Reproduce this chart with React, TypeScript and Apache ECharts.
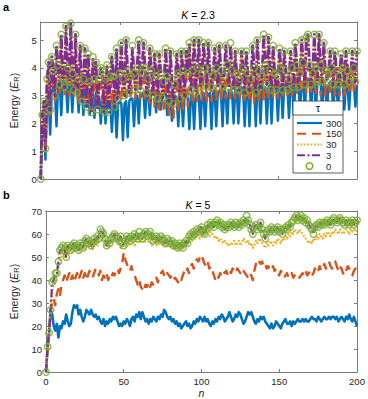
import React, { useEffect, useRef } from "react";
import * as echarts from "echarts";

// ---------- data ----------
const legendNames = ["300", "150", "30", "3", "0"];
const xTicks = [0, 50, 100, 150, 200];
const yTicksTop = [0, 1, 2, 3, 4, 5];
const yTicksBottom = [0, 10, 20, 30, 40, 50, 60, 70];

// Panel a, K = 2.3 (n = 0..200)
const k23_tau300 = [
  0,1.8,2.6,0.7,2.9,3.1,1.6,3.2,3.3,3.1,
  1.9,3.4,3.5,2.3,3.5,3.6,3.4,2.4,3.5,3.6,
  2.4,3.5,3.4,3.3,2.4,3.4,3.3,2.3,3.3,3.2,
  3.1,2.3,3.2,3.1,2.2,3.1,3.0,2.9,2.0,3.0,
  2.9,2.0,2.9,2.8,2.8,1.7,2.8,2.7,1.5,2.7,
  2.8,2.7,1.4,2.7,2.8,1.5,2.8,2.9,2.9,1.9,
  3.0,3.0,2.0,3.1,3.0,3.1,2.2,3.1,3.2,2.3,
  3.2,3.1,3.2,2.4,3.2,3.1,2.5,3.1,3.2,3.1,
  2.3,3.0,3.1,2.1,3.0,3.0,2.9,1.9,3.0,2.9,
  1.9,3.0,3.0,2.9,1.8,3.0,3.1,1.8,3.0,3.1,
  3.0,1.8,3.1,3.1,1.9,3.1,3.0,3.1,1.8,3.1,
  3.2,1.9,3.1,3.2,3.1,1.9,3.2,3.1,2.0,3.2,
  3.2,3.1,2.0,3.2,3.2,2.0,3.2,3.3,3.2,1.9,
  3.2,3.3,1.9,3.3,3.2,3.3,1.9,3.3,3.3,2.0,
  3.3,3.2,3.3,2.0,3.3,3.4,2.0,3.3,3.4,3.3,
  2.1,3.4,3.3,2.2,3.4,3.4,3.3,2.2,3.4,3.5,
  2.3,3.4,3.5,3.4,2.4,3.5,3.5,2.5,3.5,3.6,
  3.5,2.5,3.5,3.5,2.5,3.5,3.6,3.5,2.4,3.5,
  3.4,2.4,3.4,3.5,3.4,2.5,3.4,3.4,2.5,3.4,
  3.5,3.4,2.5,3.4,3.4,2.5,3.4,3.5,3.4,2.6,
  3.4,
];
const k23_tau150 = [
  0,2.0,2.7,1.0,3.1,3.8,2.3,3.5,3.9,2.8,
  3.7,4.1,3.1,3.9,4.0,3.0,3.8,3.9,3.0,3.7,
  3.9,2.9,3.8,3.8,2.8,3.7,3.8,2.8,3.6,3.7,
  2.7,3.5,3.6,2.7,3.5,3.6,2.7,3.4,3.5,2.7,
  3.5,3.6,2.7,3.6,3.7,2.7,3.6,3.8,2.7,3.7,
  3.8,2.8,3.7,3.9,2.8,3.8,3.9,2.9,3.8,3.9,
  2.9,3.7,3.9,2.9,3.7,3.8,2.8,3.6,3.8,2.7,
  3.6,3.7,2.6,3.5,3.6,2.5,3.5,3.6,2.4,3.4,
  3.5,2.3,3.4,3.6,2.2,3.4,3.6,2.4,3.5,3.7,
  2.5,3.6,3.8,2.6,3.7,3.9,2.7,3.8,4.0,2.8,
  3.8,4.0,2.8,3.8,3.9,2.8,3.7,3.9,2.8,3.7,
  3.8,2.8,3.6,3.8,2.8,3.7,3.8,2.9,3.7,3.8,
  2.9,3.7,3.9,2.9,3.8,3.9,2.9,3.7,3.9,2.8,
  3.7,3.8,2.8,3.7,3.8,2.7,3.6,3.8,2.7,3.7,
  3.8,2.8,3.7,3.9,2.8,3.8,3.9,2.9,3.8,3.9,
  2.9,3.8,4.0,3.0,3.9,4.0,3.0,3.9,4.1,3.0,
  3.9,4.1,3.1,4.0,4.1,3.1,4.0,4.1,3.1,4.0,
  4.2,3.1,4.0,4.1,3.1,4.0,4.1,3.0,3.9,4.0,
  3.0,3.9,4.0,3.0,3.9,4.0,3.0,3.9,4.0,3.0,
  3.9,4.0,3.0,3.9,4.1,3.1,4.0,4.1,3.1,4.0,
  4.1,
];
const k23_tau30 = [
  0,2.2,2.8,1.2,3.5,4.0,2.7,4.2,3.8,3.1,
  4.6,4.0,3.4,5.0,3.7,3.3,5.3,4.0,3.5,5.4,
  3.8,3.3,5.0,3.3,3.6,4.6,3.0,3.7,4.5,2.8,
  4.4,3.5,2.6,4.3,3.6,4.1,2.7,3.6,4.0,3.8,
  2.6,3.6,4.1,2.6,3.7,4.3,3.7,2.8,4.6,3.0,
  3.8,4.7,3.6,3.1,4.8,3.9,3.2,3.7,4.7,3.8,
  3.3,4.0,4.8,3.3,3.8,4.8,4.0,3.2,3.6,4.6,
  3.9,3.1,4.4,3.7,3.0,4.4,3.8,3.0,3.5,4.6,
  3.7,2.9,4.5,3.6,2.9,3.5,4.5,3.8,3.0,4.6,
  3.9,3.1,4.6,3.8,4.9,3.3,3.9,4.9,3.2,4.0,
  4.9,3.4,3.8,4.8,4.0,3.4,4.8,3.9,3.4,3.7,
  4.6,4.0,3.4,4.7,3.9,3.4,3.7,4.7,4.0,3.4,
  4.8,3.9,3.3,4.5,3.8,3.3,3.6,4.5,3.9,3.2,
  4.5,3.8,3.3,3.6,4.6,3.9,3.2,4.8,3.9,3.4,
  3.7,5.0,4.0,3.4,4.9,3.9,3.3,4.7,3.8,3.3,
  3.7,4.6,3.9,3.3,4.5,3.9,3.3,3.6,4.5,3.9,
  3.4,4.8,4.0,3.4,3.8,4.9,4.1,3.5,5.0,5.0,
  4.0,3.5,3.8,5.0,4.0,3.5,5.0,4.0,3.5,4.8,
  3.9,3.5,3.8,4.5,3.9,3.5,4.5,3.9,3.5,3.7,
  4.4,3.9,3.5,4.5,3.9,3.5,3.7,4.5,3.9,3.5,
  4.5,
];
const k23_tau3 = [
  0,2.3,2.8,1.1,3.6,4.2,2.5,4.4,3.9,3.0,
  4.8,4.1,3.4,5.2,3.7,3.3,5.5,4.0,3.5,5.6,
  3.8,3.2,5.2,3.1,3.6,4.8,2.8,3.6,4.7,2.6,
  4.5,3.5,2.4,4.3,3.6,4.2,2.5,3.6,4.0,3.9,
  2.4,3.6,4.1,2.4,3.7,4.4,3.7,2.6,4.7,2.9,
  3.8,4.9,3.6,3.0,5.0,3.9,3.1,3.7,4.7,3.8,
  3.2,4.0,5.0,3.2,3.8,4.9,4.0,3.1,3.6,4.7,
  3.9,3.0,4.5,3.7,2.9,4.5,3.8,2.9,3.5,4.7,
  3.7,2.8,4.6,3.5,2.7,3.4,4.5,3.8,2.9,4.6,
  3.9,3.0,4.6,3.8,4.9,3.2,3.9,5.0,3.1,4.0,
  5.0,3.3,3.8,4.9,4.0,3.3,4.9,3.9,3.3,3.7,
  4.7,4.0,3.3,4.8,3.9,3.3,3.7,4.8,4.1,3.3,
  4.8,3.9,3.2,4.6,3.8,3.2,3.6,4.6,4.0,3.1,
  4.6,3.8,3.2,3.6,4.8,4.0,3.1,5.0,3.9,3.3,
  3.7,5.2,4.1,3.4,5.1,3.9,3.2,4.8,3.8,3.2,
  3.7,4.7,3.9,3.2,4.6,3.9,3.2,3.6,4.6,4.0,
  3.3,4.9,4.1,3.3,3.8,5.0,4.2,3.4,5.1,5.2,
  4.1,3.4,3.8,5.2,4.0,3.5,5.2,4.1,3.5,4.9,
  3.9,3.6,3.8,4.6,4.0,3.4,4.6,3.9,3.4,3.7,
  4.5,4.0,3.4,4.6,3.9,3.5,3.7,4.6,4.0,3.5,
  4.6,
];
const k23_tau0 = [
  0,2.3,2.8,1.1,3.6,4.2,2.5,4.4,3.9,3.0,
  4.8,4.1,3.4,5.2,3.6,3.3,5.5,4.0,3.5,5.6,
  3.8,3.2,5.2,3.1,3.6,4.8,2.8,3.6,4.7,2.6,
  4.5,3.5,2.4,4.4,3.6,4.2,2.5,3.6,4.0,3.9,
  2.4,3.6,4.1,2.4,3.7,4.4,3.7,2.6,4.7,2.9,
  3.8,4.9,3.6,3.0,5.0,3.9,3.1,3.7,4.8,3.8,
  3.2,4.0,5.0,3.2,3.8,4.9,4.0,3.1,3.6,4.7,
  3.9,3.0,4.5,3.7,2.9,4.5,3.8,2.9,3.5,4.7,
  3.7,2.8,4.6,3.6,2.7,3.4,4.5,3.8,2.9,4.6,
  3.9,3.0,4.6,3.8,4.9,3.2,3.9,5.0,3.1,4.0,
  5.0,3.3,3.8,4.9,4.0,3.3,4.9,3.9,3.3,3.7,
  4.7,4.0,3.3,4.8,3.9,3.3,3.7,4.8,4.1,3.3,
  4.9,3.9,3.2,4.6,3.8,3.2,3.6,4.6,4.0,3.1,
  4.6,3.8,3.2,3.6,4.8,4.0,3.1,5.0,3.9,3.3,
  3.7,5.2,4.1,3.4,5.1,3.9,3.2,4.8,3.8,3.2,
  3.7,4.7,4.0,3.2,4.6,3.9,3.2,3.6,4.6,4.0,
  3.3,4.9,4.1,3.3,3.8,5.0,4.2,3.4,5.1,5.2,
  4.1,3.4,3.8,5.2,4.0,3.5,5.2,4.1,3.5,4.9,
  3.9,3.5,3.8,4.6,4.0,3.4,4.6,3.9,3.4,3.7,
  4.5,4.0,3.4,4.6,3.9,3.5,3.7,4.6,4.0,3.5,
  4.6,
];

// Panel b, K = 5 (n = 0..200)
const k5_tau300 = [
  0,10,17,27,25,20,18,21,15,20,
  19,22,21,25,22,20,21,26,29,28,
  29,25,27,24,22,24,27,26,25,27,
  25,24,25,23,24,22,21,23,20,22,
  21,23,22,24,23,24,22,20,21,20,
  22,21,23,22,20,23,24,22,25,24,
  26,23,26,24,22,23,21,23,22,24,
  23,22,24,23,25,24,27,26,24,23,
  24,22,23,21,22,20,21,19,20,21,
  22,20,21,19,20,22,21,23,22,24,
  23,22,24,22,23,21,20,22,21,23,
  22,24,23,25,24,22,23,24,26,24,
  22,23,25,24,26,25,23,21,22,24,
  26,25,26,24,22,21,23,22,24,23,
  24,22,21,20,19,21,19,20,22,21,
  20,19,21,22,23,21,21,22,20,22,
  21,22,23,22,22,23,22,23,22,22,
  23,24,23,23,22,24,23,22,23,24,
  23,23,24,23,24,24,23,24,22,23,
  24,23,22,24,23,25,23,22,24,22,
  20,
];
const k5_tau150 = [
  0,9,17,26,30,32,29,34,36,33,
  38,40,42,39,41,43,40,42,39,41,
  43,40,42,44,41,43,40,42,44,42,
  41,43,45,44,42,44,40,42,41,43,
  40,42,41,43,42,44,45,43,45,47,
  52,49,47,45,44,46,43,42,40,38,
  40,37,36,35,38,37,39,37,39,38,
  40,41,39,42,43,44,42,41,43,42,
  41,42,40,41,40,39,41,40,42,44,
  43,45,43,46,47,45,47,49,48,50,
  51,49,47,46,48,45,46,44,42,40,
  42,41,43,42,44,43,44,42,44,43,
  45,44,43,45,44,43,45,44,43,42,
  41,43,42,40,44,47,49,48,47,48,
  46,47,45,46,44,45,46,44,45,43,
  42,44,43,41,42,43,41,42,43,41,
  42,43,42,41,42,43,42,44,42,43,
  44,42,43,45,43,44,46,44,45,47,
  45,46,48,46,45,47,48,46,44,46,
  45,43,42,44,46,45,43,42,44,45,
  43,
];
const k5_tau30 = [
  0,10,16,26,35,38,40,42,45,48,
  51,52,50,53,51,52,54,52,53,55,
  53,54,52,55,54,53,55,56,54,55,
  53,56,57,55,58,59,57,58,55,56,
  54,55,57,56,58,57,56,55,54,55,
  56,55,54,56,55,57,56,55,57,58,
  56,57,58,56,57,58,56,57,55,56,
  57,55,56,57,56,55,56,54,55,56,
  54,55,53,54,55,53,54,55,54,56,
  55,57,56,58,57,59,58,60,59,58,
  59,60,59,61,60,59,61,60,59,58,
  59,57,58,57,56,57,56,55,56,55,
  56,57,55,56,57,55,56,58,57,56,
  57,55,56,54,55,57,56,58,57,56,
  55,54,56,55,57,56,55,57,56,58,
  57,56,58,57,59,58,60,59,61,60,
  62,61,60,62,61,60,59,58,57,56,
  57,56,58,57,59,58,60,59,58,60,
  59,61,60,59,61,60,62,61,60,62,
  61,60,61,62,61,60,62,61,62,61,
  62,
];
const k5_tau3 = [
  0,11,17,27,39,40,43,43,48,53,
  53,55,53,50,55,54,53,55,56,54,
  55,53,56,55,54,57,58,56,57,55,
  56,58,57,59,58,61,61,60,58,55,
  57,56,58,59,60,59,58,57,59,56,
  55,57,59,58,57,59,58,60,59,58,
  60,59,58,60,61,59,60,61,59,57,
  58,59,58,57,59,58,57,56,58,57,
  56,57,55,56,55,54,56,55,54,56,
  57,56,59,60,59,61,60,61,61,62,
  63,61,60,62,64,63,65,64,63,65,
  66,64,65,63,64,62,63,64,63,65,
  64,63,65,64,63,65,64,66,65,67,
  66,64,62,60,63,64,62,63,65,62,
  60,58,61,62,61,63,62,61,62,63,
  61,62,60,62,63,62,64,63,65,66,
  66,68,66,67,68,66,67,65,66,64,
  63,62,60,63,64,63,65,64,65,64,
  65,66,65,64,66,66,66,65,66,67,
  66,65,64,66,65,64,65,66,64,65,
  66,
];
const k5_tau0 = [
  0,11,17,27,39,40,43,43,48,53,
  54,55,53,50,55,54,53,55,56,54,
  55,53,56,55,54,57,58,56,57,55,
  56,58,57,59,58,62,61,60,58,55,
  57,56,58,59,60,59,58,57,59,56,
  55,57,59,58,57,59,58,60,59,58,
  61,59,58,60,61,59,60,61,59,57,
  58,59,58,57,59,58,57,56,58,57,
  56,57,55,56,55,54,56,55,54,56,
  57,56,59,60,59,61,60,62,61,62,
  63,61,60,62,64,63,65,64,63,65,
  66,64,65,63,64,62,63,64,63,65,
  64,63,65,64,63,65,64,66,65,68,
  66,64,62,60,63,64,62,63,65,62,
  60,58,61,62,61,63,62,61,62,63,
  61,62,60,62,63,62,64,63,65,66,
  67,68,66,67,68,66,67,65,66,64,
  63,62,60,63,64,63,65,64,65,64,
  65,66,65,64,66,67,66,65,66,67,
  66,65,64,66,65,64,65,66,64,65,
  66,
];

// ---------- styling ----------
const FONT = '"Liberation Sans", Arial, Helvetica, sans-serif';
const TXT = "#262626";
const AX = "#7a7a7a";
const C_BLUE = "#0072BD";
const C_ORANGE = "#D95319";
const C_YELLOW = "#EDB120";
const C_PURPLE = "#7E2F8E";
const C_GREEN = "#77AC30";

const DASH_150 = [9, 6];
const DASH_30 = [1.8, 1.6];
const DASH_3 = [9, 2, 2, 2];
const DASH_3_LEG = [8, 2.5, 2, 2.5];

const toXY = (arr: number[]) => arr.map((v, i) => [i, v]);

function lineSeries(name: string, data: number[], color: string, dash: any, width: number, idx: number) {
  return {
    name,
    type: "line",
    xAxisIndex: idx * 2,
    yAxisIndex: idx * 2,
    data: toXY(data),
    showSymbol: false,
    symbol: "none",
    silent: true,
    lineStyle: { color, width, type: dash, cap: "butt", join: "round" },
    itemStyle: { color },
    z: 2,
  };
}

function circleSeries(name: string, data: number[], idx: number) {
  return {
    name,
    type: "scatter",
    xAxisIndex: idx * 2,
    yAxisIndex: idx * 2,
    data: toXY(data),
    symbol: "circle",
    symbolSize: 6.5,
    silent: true,
    itemStyle: { color: "rgba(255,255,255,0)", borderColor: C_GREEN, borderWidth: 1.5 },
    z: 3,
  };
}

function xAxes(grid: number, withLabels: boolean) {
  const base = {
    gridIndex: grid,
    type: "value",
    min: xTicks[0],
    max: xTicks[xTicks.length - 1],
    interval: xTicks[1] - xTicks[0],
    splitLine: { show: false },
    axisLine: { show: true, onZero: false, lineStyle: { color: AX, width: 1 } },
    axisTick: { show: true, inside: true, length: 3, lineStyle: { color: AX, width: 1 } },
  };
  return [
    {
      ...base,
      position: "bottom",
      axisLabel: { show: withLabels, color: TXT, fontSize: 9.5, fontFamily: FONT, margin: 4 },
      name: withLabels ? "n" : "",
      nameLocation: "middle",
      nameGap: 15,
      nameTextStyle: { color: TXT, fontSize: 10.5, fontStyle: "italic", fontFamily: FONT },
    },
    { ...base, position: "top", axisLabel: { show: false } },
  ];
}

function yAxes(grid: number, ticks: number[], max: number, nameGap: number) {
  const base = {
    gridIndex: grid,
    type: "value",
    min: ticks[0],
    max,
    interval: ticks[1] - ticks[0],
    splitLine: { show: false },
    axisLine: { show: true, onZero: false, lineStyle: { color: AX, width: 1 } },
    axisTick: { show: true, inside: true, length: 3, lineStyle: { color: AX, width: 1 } },
  };
  return [
    {
      ...base,
      position: "left",
      axisLabel: {
        show: true,
        color: TXT,
        fontSize: 9.5,
        fontFamily: FONT,
        margin: 4,
        formatter: (v: number) => (ticks.indexOf(v) >= 0 ? String(v) : ""),
      },
      name: "{a|Energy (}{b|E}{c|R}{a|)}",
      nameLocation: "middle",
      nameGap,
      nameTextStyle: {
        color: TXT,
        fontFamily: FONT,
        fontSize: 10.5,
        rich: {
          a: { fontSize: 10.5, fontFamily: FONT, color: TXT, lineHeight: 14 },
          b: { fontSize: 10.5, fontFamily: FONT, color: TXT, fontStyle: "italic", lineHeight: 14 },
          c: { fontSize: 7.5, fontFamily: FONT, color: TXT, lineHeight: 7, verticalAlign: "bottom" },
        },
      },
    },
    { ...base, position: "right", axisLabel: { show: false } },
  ];
}

// legend drawn as graphics (box with τ header)
const LEG_X = 293;
const LEG_Y = 101;
const LEG_W = 50;
const LEG_H = 72;
const LEG_ROW0 = 123;
const LEG_STEP = 10.75;

function legendGraphics() {
  const styles: any[] = [
    { color: C_BLUE, dash: null },
    { color: C_ORANGE, dash: DASH_150 },
    { color: C_YELLOW, dash: DASH_30 },
    { color: C_PURPLE, dash: DASH_3_LEG },
    { color: C_GREEN, dash: "circle" },
  ];
  const els: any[] = [
    {
      type: "rect",
      z: 10,
      shape: { x: LEG_X, y: LEG_Y, width: LEG_W, height: LEG_H },
      style: { fill: "#ffffff", stroke: "#333", lineWidth: 0.8 },
    },
    {
      type: "line",
      z: 11,
      shape: { x1: LEG_X, y1: 115, x2: LEG_X + LEG_W, y2: 115 },
      style: { stroke: "#333", lineWidth: 0.8 },
    },
    {
      type: "text",
      z: 11,
      x: LEG_X + LEG_W / 2,
      y: 108,
      style: { text: "τ", fontSize: 10, fontFamily: FONT, fill: "#000", align: "center", verticalAlign: "middle" },
    },
  ];
  legendNames.forEach((name, i) => {
    const y = LEG_ROW0 + i * LEG_STEP;
    const s = styles[i];
    if (s.dash === "circle") {
      els.push({
        type: "circle",
        z: 11,
        shape: { cx: 309.5, cy: y, r: 3.3 },
        style: { fill: "none", stroke: s.color, lineWidth: 1.5 },
      });
    } else {
      els.push({
        type: "line",
        z: 11,
        shape: { x1: 297, y1: y, x2: 322, y2: y },
        style: { stroke: s.color, lineWidth: 2.2, lineDash: s.dash || undefined, lineCap: "butt" },
      });
    }
    els.push({
      type: "text",
      z: 11,
      x: 326,
      y,
      style: { text: name, fontSize: 9.5, fontFamily: FONT, fill: TXT, align: "left", verticalAlign: "middle" },
    });
  });
  return els;
}

function titleText(text: string, y: number) {
  return {
    type: "text",
    z: 11,
    x: 198,
    y,
    style: {
      text,
      fontSize: 10.5,
      fontFamily: FONT,
      fill: "#000",
      align: "center",
      verticalAlign: "middle",
      rich: {
        i: { fontStyle: "italic", fontSize: 10.5, fontFamily: FONT, fill: "#000" },
        r: { fontSize: 10.5, fontFamily: FONT, fill: "#000" },
      },
    },
  };
}

export default function App() {
  const ref = useRef<HTMLDivElement>(null);

  useEffect(() => {
    if (!ref.current) return;
    const chart = echarts.init(ref.current, null, { renderer: "svg" });
    const option: any = {
      animation: false,
      backgroundColor: "#ffffff",
      textStyle: { fontFamily: FONT },
      grid: [
        { left: 39, top: 22, width: 318, height: 157, containLabel: false },
        { left: 39, top: 211, width: 318, height: 161, containLabel: false },
      ],
      xAxis: [...xAxes(0, false), ...xAxes(1, true)],
      yAxis: [
        ...yAxes(0, yTicksTop, 5.65, 18),
        ...yAxes(1, yTicksBottom, yTicksBottom[yTicksBottom.length - 1], 20),
      ],
      graphic: [
        { type: "text", left: 3, top: 1, style: { text: "a", font: `bold 11px ${FONT}`, fill: "#000" } },
        { type: "text", left: 3, top: 189, style: { text: "b", font: `bold 11px ${FONT}`, fill: "#000" } },
        titleText("{i|K}{r| = 2.3}", 15),
        titleText("{i|K}{r| = 5}", 205),
        ...legendGraphics(),
      ],
      series: [
        lineSeries("300", k23_tau300, C_BLUE, "solid", 2.5, 0),
        lineSeries("150", k23_tau150, C_ORANGE, DASH_150, 2.4, 0),
        lineSeries("30", k23_tau30, C_YELLOW, DASH_30, 2.2, 0),
        lineSeries("3", k23_tau3, C_PURPLE, DASH_3, 2.9, 0),
        circleSeries("0", k23_tau0, 0),
        lineSeries("300", k5_tau300, C_BLUE, "solid", 2.6, 1),
        lineSeries("150", k5_tau150, C_ORANGE, DASH_150, 2.4, 1),
        lineSeries("30", k5_tau30, C_YELLOW, DASH_30, 2.2, 1),
        lineSeries("3", k5_tau3, C_PURPLE, DASH_3_LEG, 2.2, 1),
        circleSeries("0", k5_tau0, 1),
      ],
    };
    chart.setOption(option);
    return () => chart.dispose();
  }, []);

  return (
    <div
      ref={ref}
      style={{ position: "fixed", left: 0, top: 0, width: 368, height: 399, background: "#fff" }}
    />
  );
}
